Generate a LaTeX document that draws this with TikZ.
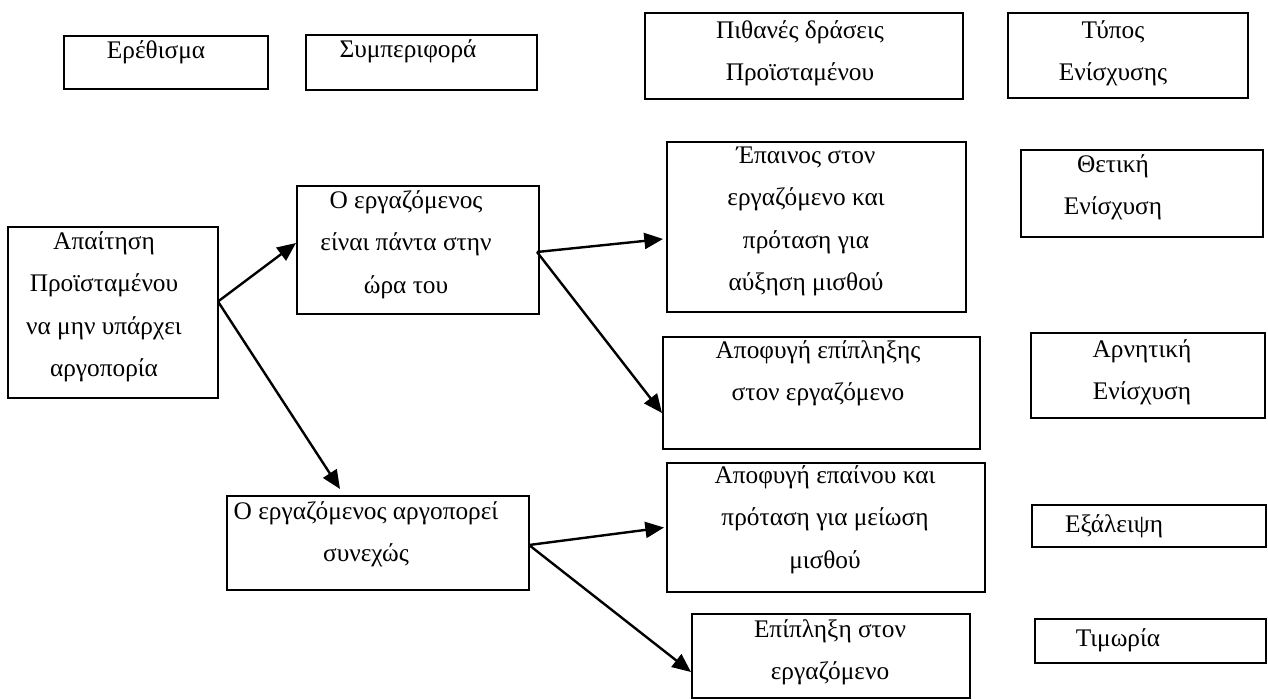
\documentclass[tikz,border=0pt]{standalone}
\usepackage{fontspec}
\setmainfont{Liberation Serif}
\usetikzlibrary{arrows.meta,calc,fit}
\begin{document}
\begin{tikzpicture}[x=0.75pt,y=-0.75pt,
  box/.style={draw, line width=1.5pt, inner sep=0pt},
  txt/.style={anchor=north, inner sep=0pt, align=center, yshift=22.33pt,
              font=\fontsize{19}{31.9}\selectfont},
  conn/.style={line width=1.8pt, -{Triangle[length=14pt,width=12pt]}}]
\useasboundingbox (0,0) rectangle (1268,699);

% boxes
\node[box, fit={(64,36)(268,89)}]     (ereth) {};
\node[box, fit={(306,35)(537,90)}]    (symp)  {};
\node[box, fit={(645,13)(963,99)}]    (pith)  {};
\node[box, fit={(1008,13)(1248,98)}]  (typos) {};
\node[box, fit={(667,142)(966,312)}]  (epain) {};
\node[box, fit={(1021,150)(1263,237)}](thet)  {};
\node[box, fit={(8,227)(218,398)}]    (apait) {};
\node[box, fit={(297,186)(539,314)}]  (good)  {};
\node[box, fit={(663,337)(980,449)}]  (avrep) {};
\node[box, fit={(1031,333)(1265,418)}](neg)   {};
\node[box, fit={(227,496)(529,590)}]  (late)  {};
\node[box, fit={(667,463)(985,592)}]  (avpr)  {};
\node[box, fit={(1032,505)(1266,547)}](elim)  {};
\node[box, fit={(692,614)(970,698)}]  (repr)  {};
\node[box, fit={(1035,619)(1266,663)}](pun)   {};

% texts
\node[txt] (tereth) at (156,58)  {\strut Ερέθισμα};
\node[txt] (tsymp)  at (408,57)  {\strut Συμπεριφορά};
\node[txt] (tpith)  at (800,38)  {\strut Πιθανές δράσεις\\Προϊσταμένου};
\node[txt] (ttypos) at (1113,38) {\strut Τύπος\\Ενίσχυσης};
\node[txt] (tepain) at (806,163) {\strut Έπαινος στον\\εργαζόμενο και\\πρόταση για\\αύξηση μισθού};
\node[txt] (tthet)  at (1113,172){\strut Θετική\\Ενίσχυση};
\node[txt] (tapait) at (104,249) {\strut Απαίτηση\\Προϊσταμένου\\να μην υπάρχει\\αργοπορία};
\node[txt] (tgood)  at (406,208) {\strut Ο εργαζόμενος\\είναι πάντα στην\\ώρα του};
\node[txt] (tavrep) at (818,358) {\strut Αποφυγή επίπληξης\\στον εργαζόμενο};
\node[txt] (tneg)   at (1142,357){\strut Αρνητική\\Ενίσχυση};
\node[txt] (tlate)  at (366,519) {\strut Ο εργαζόμενος αργοπορεί\\συνεχώς};
\node[txt] (tavpr)  at (825,483) {\strut Αποφυγή επαίνου και\\πρόταση για μείωση\\μισθού};
\node[txt] (telim)  at (1114,532){\strut Εξάλειψη};
\node[txt] (trepr)  at (830,637) {\strut Επίπληξη στον\\εργαζόμενο};
\node[txt] (tpun)   at (1118,646){\strut Τιμωρία};

% connectors
\draw[conn] ($(apait.east)+(-1,-11)$) -- ($(good.west)+(0,-7)$);
\draw[conn] ($(apait.east)+(-1,-11)$) -- ($(late.north)+(-38,-6)$);
\draw[conn] ($(good.east)+(-3,2)$) -- ($(epain.west)+(-3,12)$);
\draw[conn] ($(good.east)+(-3,2)$) -- ($(avrep.west)+(0,20)$);
\draw[conn] ($(late.east)+(-1,2)$) -- ($(avpr.west)+(-2,0)$);
\draw[conn] ($(late.east)+(-1,2)$) -- ($(repr.west)+(0,16)$);
\end{tikzpicture}
\end{document}
